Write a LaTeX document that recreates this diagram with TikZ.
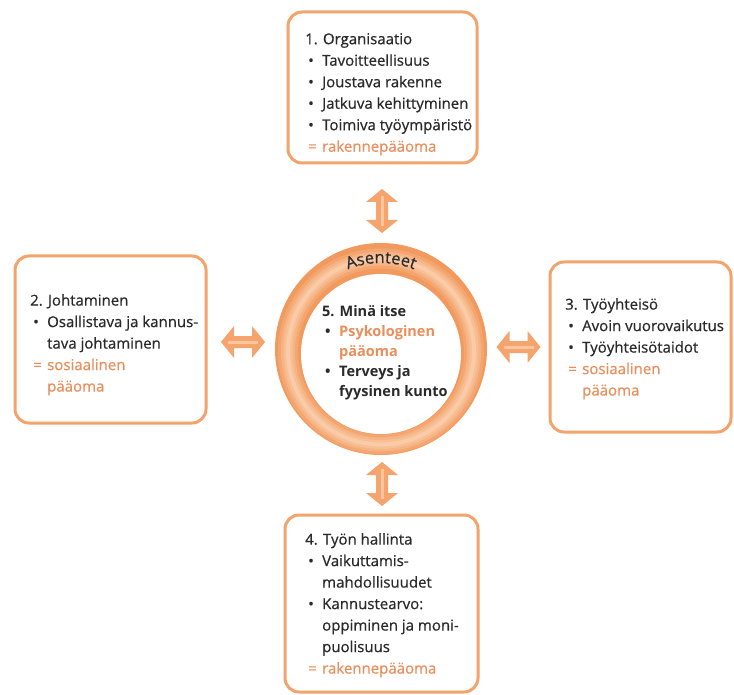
\documentclass[tikz,border=0pt]{standalone}
\usepackage{fontspec}
\setmainfont{Open Sans}
\newfontfamily\boxfont[FakeBold=0.6]{Open Sans}
\usetikzlibrary{decorations.text}
\definecolor{boxline}{HTML}{F2A46C}
\definecolor{txtorange}{HTML}{EA8E5C}
\definecolor{txtdark}{HTML}{2A2A2A}
\definecolor{ringbase}{HTML}{F29A5E}
\definecolor{ringA}{HTML}{F4A670}
\definecolor{ringB}{HTML}{F6B383}
\definecolor{ringC}{HTML}{F8BF95}
\definecolor{ringD}{HTML}{FACBA8}
\definecolor{arrowcol}{HTML}{F4A46C}
\definecolor{arrowhl}{HTML}{F9C6A0}
\newcommand\myb[1]{\makebox[17pt][l]{\hspace{3pt}•}#1}
\newcommand\myc[1]{\hspace*{17pt}#1}
\newcommand\mye[1]{\makebox[17pt][l]{\hspace{3pt}\textcolor{txtorange}{=}}\textcolor{txtorange}{#1}}
\begin{document}
\begin{tikzpicture}[x=1pt,y=-1pt,
  box/.style={draw=boxline, line width=3pt, rounded corners=14pt, fill=white, inner sep=0pt},
  txt/.style={anchor=north west, inner sep=0pt, align=left, text=txtdark, font=\boxfont\fontsize{15}{21.5}\selectfont},
  dblarr/.pic={
    \fill[arrowcol] (-22,0) -- (-9,-16) -- (-9,-6) -- (9,-6) -- (9,-16) -- (22,0) -- (9,16) -- (9,6) -- (-9,6) -- (-9,16) -- cycle;
    \fill[arrowhl] (-15,-1.5) rectangle (15,1.5);
  }
]
\useasboundingbox (0,0) rectangle (734,695);
\fill[white] (0,0) rectangle (734,695);

% boxes
\node[box, minimum width=189pt, minimum height=151pt] (b1) at (382.5,87.5) {};
\node[box, minimum width=191pt, minimum height=167pt] (b2) at (110.5,339.5) {};
\node[box, minimum width=181pt, minimum height=170pt] (b3) at (640.5,347) {};
\node[box, minimum width=193pt, minimum height=177pt] (b4) at (381.5,603.5) {};

% ring
\node[circle, fill=ringbase, minimum size=212pt, inner sep=0pt] (ring) at (381,349) {};
\coordinate (rmid) at (381,351.5);
\draw[ringA, line width=20pt] (rmid) circle[radius=93pt];
\draw[ringB, line width=14pt] (rmid) circle[radius=93pt];
\draw[ringC, line width=9pt] (rmid) circle[radius=93pt];
\draw[ringD, line width=4pt] (rmid) circle[radius=93pt];
\node[circle, fill=white, minimum size=160pt, inner sep=0pt] (core) at (381,354) {};
\path[decorate, decoration={text along path, text align=center,
   text={|\boxfont\fontsize{16.5}{16.5}\selectfont\color{txtdark}|Asenteet}}]
   (rmid) ++(125:88.5pt) arc[start angle=125, end angle=55, radius=88.5pt];

% arrows
\pic[rotate=90] (a1) at (382,211) {dblarr};
\pic[rotate=90] (a4) at (382,484) {dblarr};
\pic (a2) at (243,342) {dblarr};
\pic (a3) at (518.5,347) {dblarr};

% texts
\node[txt] (t1) at (305,33) {1. Organisaatio\\\myb{Tavoitteellisuus}\\\myb{Joustava rakenne}\\\myb{Jatkuva kehittyminen}\\\myb{Toimiva työympäristö}\\\mye{rakennepääoma}};
\node[txt] (t2) at (30,294) {2. Johtaminen\\\myb{Osallistava ja kannus-}\\\myc{tava johtaminen}\\\mye{sosiaalinen}\\\myc{\textcolor{txtorange}{pääoma}}};
\node[txt] (t3) at (565,298) {3. Työyhteisö\\\myb{Avoin vuorovaikutus}\\\myb{Työyhteisötaidot}\\\mye{sosiaalinen}\\\myc{\textcolor{txtorange}{pääoma}}};
\node[txt] (t4) at (305,533) {4. Työn hallinta\\\myb{Vaikuttamis-}\\\myc{mahdollisuudet}\\\myb{Kannustearvo:}\\\myc{oppiminen ja moni-}\\\myc{puolisuus}\\\mye{rakennepääoma}};
\node[txt, font=\fontsize{14.5}{20}\selectfont\bfseries] (t5) at (322,305) {5. Minä itse\\\myb{\textcolor{txtorange}{Psykologinen}}\\\myc{\textcolor{txtorange}{pääoma}}\\\myb{Terveys ja}\\\myc{fyysinen kunto}};
\end{tikzpicture}
\end{document}
